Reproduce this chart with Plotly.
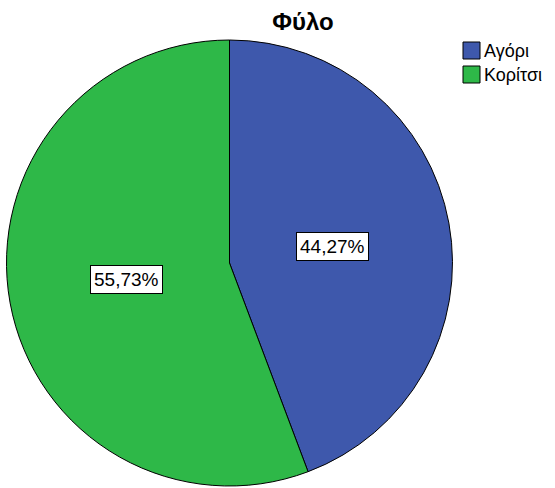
import numpy as np
import plotly.graph_objects as go

# sample data
labels = ["Αγόρι", "Κορίτσι"]
percents = [44.27, 55.73]
colors = ["#3E58AC", "#2EB848"]
title = "Φύλο"

W, H = 555, 488
FONT = "Liberation Sans, Arial"
# pie box in pixels (left, right, top, bottom)
px_left, px_right, px_top, px_bottom = 6, 453, 40, 486

fig = go.Figure(go.Pie(
    labels=labels,
    values=percents,
    marker=dict(colors=colors, line=dict(color="black", width=1)),
    sort=False,
    direction="clockwise",
    rotation=0,
    textinfo="none",
    hoverinfo="label+percent",
    showlegend=False,
    domain=dict(x=[px_left / W, px_right / W],
                y=[1 - px_bottom / H, 1 - px_top / H]),
))

# boxed percentage labels at mid angle of each slice
cx = (px_left + px_right) / 2
cy = (px_top + px_bottom) / 2
r = min(px_right - px_left, px_bottom - px_top) / 2
fracs = np.array(percents) / np.sum(percents)
mids = np.cumsum(fracs) - fracs / 2
for p, m in zip(percents, mids):
    ang = np.deg2rad(90 - 360 * m)
    x = cx + 0.47 * r * np.cos(ang)
    y = cy - 0.42 * r * np.sin(ang)
    fig.add_annotation(
        x=x / W, y=1 - y / H, xref="paper", yref="paper",
        xanchor="center", yanchor="middle",
        text=f"{p:.2f}%".replace(".", ","), showarrow=False,
        font=dict(family=FONT, size=19, color="black"),
        bgcolor="white", bordercolor="black", borderwidth=1, borderpad=3,
    )

# legend drawn by hand (SPSS style squares)
leg_x, leg_y, box, step = 463, 42, 17, 24
for i, (lab, col) in enumerate(zip(labels, colors)):
    top = leg_y + i * step
    fig.add_shape(type="rect", xref="paper", yref="paper",
                  x0=leg_x / W, x1=(leg_x + box) / W,
                  y0=1 - (top + box) / H, y1=1 - top / H,
                  fillcolor=col, line=dict(color="black", width=1))
    fig.add_annotation(x=(leg_x + box + 2) / W, y=1 - (top + box / 2) / H,
                       xref="paper", yref="paper", xanchor="left", yanchor="middle",
                       text=lab, showarrow=False,
                       font=dict(family=FONT, size=18, color="black"))

fig.update_layout(
    width=W, height=H,
    margin=dict(l=0, r=0, t=0, b=0),
    paper_bgcolor="white",
    separators=",.",
    title=dict(text=f"<b>{title}</b>", x=303 / W, xanchor="center",
               y=1 - 22 / H, yanchor="middle",
               font=dict(family=FONT, size=24, color="black")),
)

# drop the browser's default body margin so the figure sits at 0,0
fig.write_html("out.html", config={"displayModeBar": False},
               post_script="document.body.style.margin='0';")
